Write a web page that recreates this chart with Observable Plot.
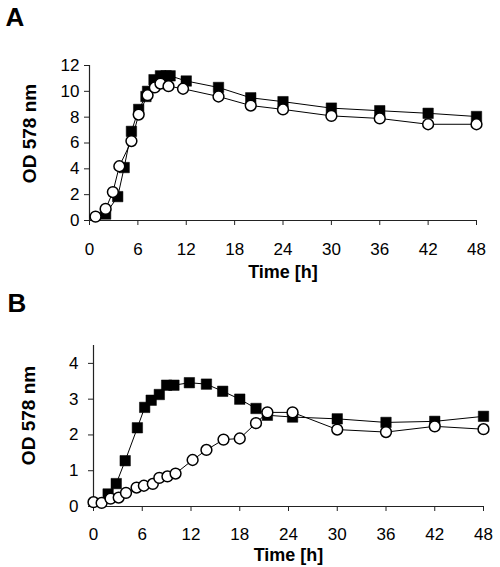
<!DOCTYPE html>
<html>
<head>
<meta charset="utf-8">
<script src="https://cdn.jsdelivr.net/npm/d3@7"></script>
<script src="https://cdn.jsdelivr.net/npm/@observablehq/plot@0.6"></script>
<style>
  html, body { margin: 0; padding: 0; background: #fff; }
  #chart { width: 500px; height: 567px; }
  #chart svg { display: block; }
</style>
</head>
<body>
<div id="chart"></div>
<script>
// ---------- data ----------
const xTicks = [0, 6, 12, 18, 24, 30, 36, 42, 48];

// Panel A
const yTicksA = [0, 2, 4, 6, 8, 10, 12];
const timeA_filled = [2.0, 3.5, 4.3, 5.2, 6.1, 7.0, 7.2, 8.0, 8.8, 9.5, 10.0, 12.0, 16.0, 20.0, 24.0, 30.0, 36.0, 42.0, 48.0];
const odA_filled   = [0.5, 1.85, 4.1, 6.9, 8.6, 9.6, 10.0, 10.9, 11.2, 11.2, 11.2, 10.8, 10.3, 9.5, 9.2, 8.7, 8.5, 8.3, 8.05];
const timeA_open   = [0.75, 2.0, 2.9, 3.7, 5.2, 6.1, 7.2, 8.1, 8.8, 9.8, 11.6, 16.0, 20.0, 24.0, 30.0, 36.0, 42.0, 48.0];
const odA_open     = [0.3, 0.9, 2.2, 4.2, 6.15, 8.2, 9.7, 10.3, 10.6, 10.4, 10.2, 9.6, 8.9, 8.6, 8.1, 7.9, 7.45, 7.45];

// Panel B
const yTicksB = [0, 1, 2, 3, 4];
const timeB_filled = [1.8, 2.8, 3.9, 5.4, 6.3, 7.1, 8.1, 9.0, 9.9, 11.8, 13.9, 15.9, 18.0, 20.0, 21.4, 24.5, 30.0, 36.0, 42.0, 48.0];
const odB_filled   = [0.35, 0.64, 1.28, 2.2, 2.77, 2.97, 3.13, 3.39, 3.39, 3.46, 3.42, 3.22, 3.0, 2.74, 2.55, 2.5, 2.45, 2.35, 2.38, 2.52];
const timeB_open   = [0.0, 1.0, 2.1, 3.1, 4.0, 5.3, 6.2, 7.3, 8.1, 9.1, 10.1, 12.2, 13.9, 16.0, 18.0, 20.0, 21.4, 24.5, 30.0, 36.0, 42.0, 48.0];
const odB_open     = [0.12, 0.1, 0.22, 0.25, 0.38, 0.53, 0.58, 0.63, 0.8, 0.84, 0.92, 1.3, 1.58, 1.87, 1.9, 2.33, 2.63, 2.63, 2.15, 2.08, 2.24, 2.16];

// ---------- drawing ----------
const FONT = "'Liberation Sans', Arial, Helvetica, sans-serif";
const toRows = (t, v) => t.map((x, i) => ({t: x, v: v[i]}));

function panel(o) {
  const filled = toRows(o.tf, o.vf);
  const open = toRows(o.to, o.vo);
  return Plot.plot({
    width: 500,
    height: o.height,
    marginTop: o.mt, marginBottom: o.mb, marginLeft: o.ml, marginRight: o.mr,
    style: {fontFamily: FONT, fontSize: "17px", color: "black", background: "white", overflow: "visible"},
    x: {domain: [0, 48]},
    y: {domain: o.yDomain},
    marks: [
      Plot.axisX({ticks: xTicks, tickFormat: d => String(d), tickSize: 5, tickPadding: o.xpad, label: null, fontSize: 17, stroke: "#222"}),
      Plot.axisY({ticks: o.yTicks, tickFormat: d => String(d), tickSize: 5, tickPadding: o.ypad, label: null, fontSize: 17, stroke: "#222"}),
      Plot.ruleX([0], {stroke: "#222", strokeWidth: 1.2}),
      Plot.ruleY([0], {stroke: "#222", strokeWidth: 1.2}),
      Plot.line(filled, {x: "t", y: "v", stroke: "black", strokeWidth: 1}),
      Plot.line(open, {x: "t", y: "v", stroke: "black", strokeWidth: 1}),
      Plot.dot(filled, {x: "t", y: "v", symbol: "square", r: 5.9, fill: "black", stroke: "black", strokeWidth: 0.5}),
      Plot.dot(open, {x: "t", y: "v", symbol: "circle", r: 5.4, fill: "white", stroke: "black", strokeWidth: 1.5}),
      Plot.text(["Time [h]"], {frameAnchor: "bottom", lineAnchor: "middle", dy: o.xLabelDy, fontSize: 18, fontWeight: "bold", fill: "black"}),
      Plot.text(["OD 578 nm"], {frameAnchor: "left", rotate: -90, lineAnchor: "middle", textAnchor: "middle", dx: o.yLabelDx, dy: o.yLabelDy, fontSize: 19, fontWeight: "bold", fill: "black"}),
      Plot.text([o.letter], {frameAnchor: "top-left", textAnchor: "start", lineAnchor: "middle", dx: o.letterDx, dy: o.letterDy, fontSize: 26, fontWeight: "bold", fill: "black"})
    ]
  });
}

const chart = document.getElementById("chart");
chart.append(panel({
  letter: "A", height: 283, mt: 65, mb: 63, ml: 89, mr: 24,
  yDomain: [0, 12], yTicks: yTicksA,
  tf: timeA_filled, vf: odA_filled, to: timeA_open, vo: odA_open,
  xpad: 17, ypad: 5, xLabelDy: 52, yLabelDx: -60, yLabelDy: -9.5,
  letterDx: -84, letterDy: -47.5
}));
chart.append(panel({
  letter: "B", height: 284, mt: 62, mb: 61, ml: 93, mr: 17,
  yDomain: [0, 4.5], yTicks: yTicksB,
  tf: timeB_filled, vf: odB_filled, to: timeB_open, vo: odB_open,
  xpad: 16, ypad: 10, xLabelDy: 49, yLabelDx: -65, yLabelDy: -10.5,
  letterDx: -86, letterDy: -42
}));
</script>
</body>
</html>
